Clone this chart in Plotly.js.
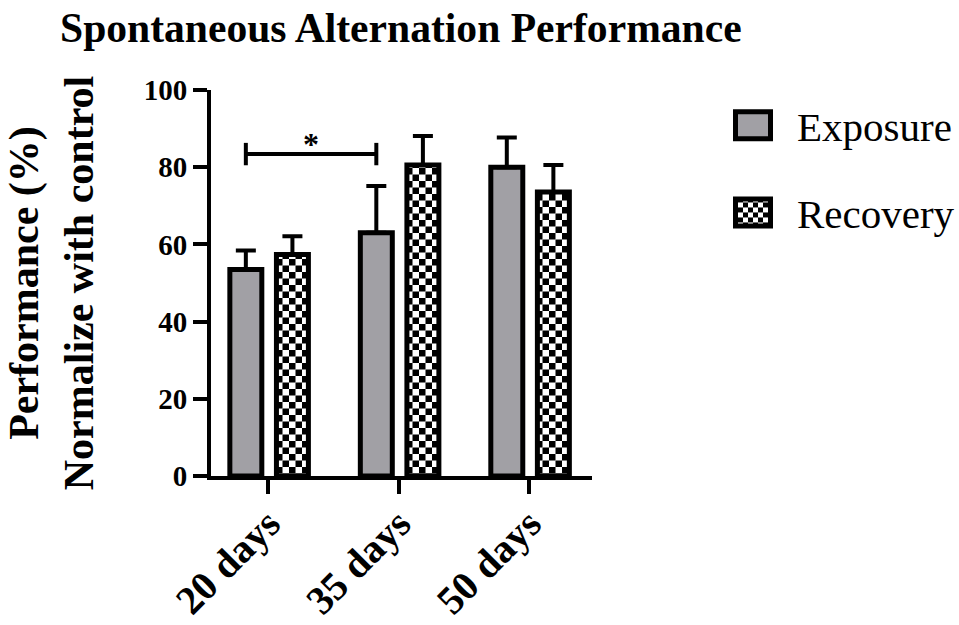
<!DOCTYPE html>
<html>
<head>
<meta charset="utf-8">
<script src="https://cdn.plot.ly/plotly-3.0.1.min.js"></script>
<style>
  html, body { margin: 0; padding: 0; background: #fff; }
  #chart { width: 959px; height: 625px; }
</style>
</head>
<body>
<div id="chart"></div>
<script>
// Spontaneous alternation, normalised to control (%), mean + SEM
const categories = ['20 days', '35 days', '50 days'];
const exposure = [53.5, 63.0, 80.0];
const exposureErr = [4.9, 12.1, 7.7];
const recovery = [57.4, 80.6, 73.6];
const recoveryErr = [4.7, 7.5, 7.0];
const noLowerErr = [0, 0, 0];
const yTicks = [0, 20, 40, 60, 80, 100];

// significance bracket between the exposure bars of two time points
const sigFrom = 0;          // index into categories
const sigTo = 1;
const sigLevel = 83.4;      // height of the bracket (%)
const sigDrop = 2.9;        // length of the bracket ends (%)
const sigLabel = '*';

const FONT = 'Liberation Serif, Times New Roman, serif';
const GREY = '#a1a0a5';
const BAR_W = 0.245;
const EXP_OFF = -0.2955;
const REC_OFF = 0.0615;

const base = {
  type: 'bar',
  x: categories,
  width: BAR_W,
  cliponaxis: false
};

const traces = [
  Object.assign({}, base, {
    name: 'Exposure',
    legendgroup: 'exp',
    y: exposure,
    offset: EXP_OFF,
    marker: { color: GREY, line: { color: '#000', width: 5 } },
    error_y: { type: 'data', symmetric: false, array: exposureErr, arrayminus: noLowerErr,
               color: '#000', thickness: 4, width: 10 }
  }),
  Object.assign({}, base, {
    name: 'Recovery',
    legendgroup: 'rec',
    y: recovery,
    offset: REC_OFF,
    marker: { color: '#fff', line: { color: '#000', width: 5 },
              pattern: { shape: '+', size: 13, bgcolor: '#fff', fgcolor: '#000', solidity: 0.5 } },
    error_y: { type: 'data', symmetric: false, array: recoveryErr, arrayminus: noLowerErr,
               color: '#000', thickness: 4, width: 10 }
  })
];

const expCentre = EXP_OFF + BAR_W / 2;
const bx0 = sigFrom + expCentre, bx1 = sigTo + expCentre;
const bracketLine = { color: '#000', width: 4 };
const shapes = [
  { type: 'line', xref: 'x', yref: 'y', x0: bx0, x1: bx1, y0: sigLevel, y1: sigLevel, line: bracketLine },
  { type: 'line', xref: 'x', yref: 'y', x0: bx0, x1: bx0, y0: sigLevel - sigDrop, y1: sigLevel + sigDrop, line: bracketLine },
  { type: 'line', xref: 'x', yref: 'y', x0: bx1, x1: bx1, y0: sigLevel - sigDrop, y1: sigLevel + sigDrop, line: bracketLine }
];

const layout = {
  width: 959,
  height: 625,
  paper_bgcolor: '#fff',
  plot_bgcolor: '#fff',
  margin: { l: 211, r: 367, t: 90, b: 149, pad: 0 },
  showlegend: true,
  title: {
    text: 'Spontaneous Alternation Performance',
    font: { family: FONT, size: 41.6, weight: 'bold', color: '#000' },
    xref: 'container', yref: 'container',
    x: 60 / 959, xanchor: 'left',
    y: 1 - 27 / 625, yanchor: 'middle'
  },
  xaxis: {
    type: 'category',
    categoryarray: categories,
    range: [-0.44, 2.48],
    showline: true, linecolor: '#000', linewidth: 4,
    ticks: 'outside', ticklen: 14, tickwidth: 4, tickcolor: '#000',
    tickangle: -45,
    ticklabelstandoff: -10,
    tickfont: { family: FONT, size: 40, weight: 'bold', color: '#000' },
    showgrid: false, zeroline: false, fixedrange: true
  },
  yaxis: {
    range: [0, 100],
    tickvals: yTicks,
    ticktext: yTicks.map(String),
    showline: true, linecolor: '#000', linewidth: 4,
    ticks: 'outside', ticklen: 14, tickwidth: 4, tickcolor: '#000',
    tickfont: { family: FONT, size: 29, weight: 'bold', color: '#000' },
    showgrid: false, zeroline: false, fixedrange: true,
    title: {
      text: 'Performance (%)<br>Normalize with control',
      font: { family: FONT, size: 42, weight: 'bold', color: '#000' },
      standoff: 38
    }
  },
  legend: {
    xref: 'container', yref: 'container',
    x: 709 / 959, xanchor: 'left',
    y: 1 - 92 / 625, yanchor: 'top',
    font: { family: FONT, size: 41, color: '#000' },
    tracegroupgap: 31,
    itemwidth: 78,
    bgcolor: 'rgba(0,0,0,0)'
  },
  shapes: shapes,
  annotations: [{
    xref: 'x', yref: 'y', x: (bx0 + bx1) / 2, y: sigLevel,
    text: sigLabel, showarrow: false, yanchor: 'bottom', yshift: -10,
    font: { family: FONT, size: 32, weight: 'bold', color: '#000' }
  }]
};

// swap the built-in pattern tiles for a checkerboard
function checkerPatterns(gd) {
  const ns = 'http://www.w3.org/2000/svg';
  gd.querySelectorAll('defs pattern').forEach(p => {
    const s = parseFloat(p.getAttribute('width'));
    const h = s / 2;
    p.removeAttribute('patternTransform');
    while (p.firstChild) p.removeChild(p.firstChild);
    const cells = [[0, 0, s, '#fff'], [0, 0, h, '#000'], [h, h, h, '#000']];
    cells.forEach(([x, y, w, c]) => {
      const r = document.createElementNS(ns, 'rect');
      r.setAttribute('x', x); r.setAttribute('y', y);
      r.setAttribute('width', w); r.setAttribute('height', w);
      r.setAttribute('fill', c);
      p.appendChild(r);
    });
  });
}

// larger legend swatches
function legendSwatches(gd) {
  gd.querySelectorAll('.legend .legendpoints path').forEach(path => {
    path.setAttribute('d', 'M17.5,13.5H-17.5V-13.5H17.5Z');
    path.style.strokeWidth = '5px';
  });
}

Plotly.newPlot('chart', traces, layout, { staticPlot: true, displayModeBar: false })
  .then(gd => { checkerPatterns(gd); legendSwatches(gd); });
</script>
</body>
</html>
